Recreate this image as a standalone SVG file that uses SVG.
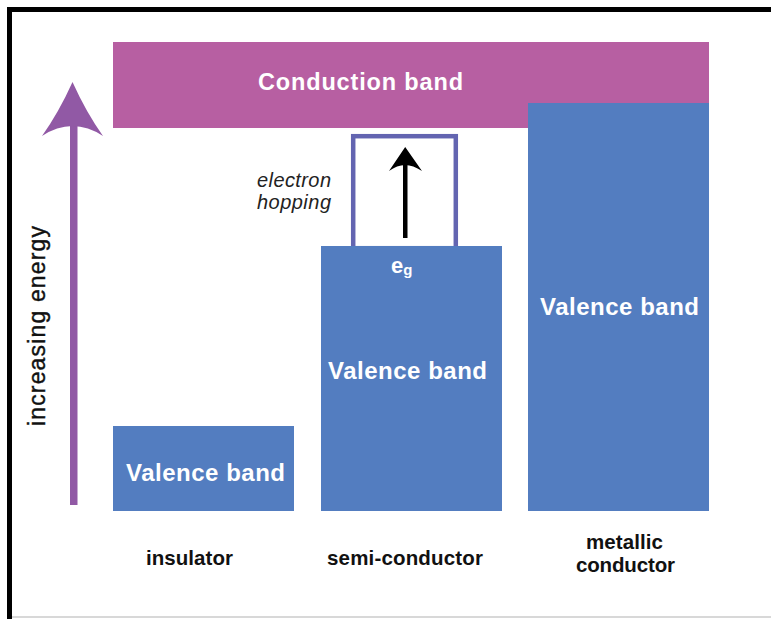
<svg xmlns="http://www.w3.org/2000/svg" width="771" height="619" viewBox="0 0 771 619">
<style>
.band{font-family:"Liberation Sans",Arial,sans-serif;font-weight:bold;fill:#fff;}
.lbl{font-family:"Liberation Sans",Arial,sans-serif;font-weight:bold;fill:#111;font-size:20.5px;}
.it{font-family:"Liberation Sans",Arial,sans-serif;font-style:italic;fill:#222;font-size:20px;}
.blue{fill:#537DC0;}
</style>
<rect x="0" y="0" width="771" height="619" fill="#fff"/>
<g id="frame">
<rect x="7" y="7" width="764" height="5" fill="#000"/>
<rect x="7" y="7" width="5" height="612" fill="#000"/>
<rect x="12" y="616" width="759" height="2" fill="#d8d8d8"/>
</g>
<g id="conduction">
<rect x="113" y="42" width="596" height="86" fill="#B75FA2"/>
<text class="band" x="258" y="90" font-size="23.5" textLength="205" lengthAdjust="spacing">Conduction band</text>
</g>
<g id="gap">
<rect x="353.2" y="136.2" width="102.6" height="112" fill="#fff" stroke="#6365B1" stroke-width="4.5"/>
</g>
<g id="insulator">
<rect class="blue" x="113" y="426" width="181" height="85"/>
<text class="band" x="126" y="481" font-size="24" textLength="159" lengthAdjust="spacing">Valence band</text>
</g>
<g id="semiconductor">
<rect class="blue" x="321" y="246" width="181" height="265"/>
<text class="band" x="328" y="379" font-size="24" textLength="159" lengthAdjust="spacing">Valence band</text>
<text class="band" x="391" y="273" font-size="22">e<tspan font-size="15" dy="2">g</tspan></text>
</g>
<g id="metallic">
<rect class="blue" x="528" y="103" width="181" height="408"/>
<text class="band" x="540" y="315" font-size="24" textLength="159" lengthAdjust="spacing">Valence band</text>
</g>
<g id="connectors">
<rect x="70" y="120" width="7.5" height="385" fill="#9159A5"/>
<path d="M72.5,82 Q86,112 103,136 Q88,126 72.5,126 Q57,126 42,136 Q59,112 72.5,82 Z" fill="#9159A5"/>
<rect x="403" y="165" width="4.5" height="73" fill="#000"/>
<path d="M405.2,147 L422,171 Q413,165 405.2,165 Q397,165 389,171 Z" fill="#000"/>
</g>
<g id="labels">
<text class="it" x="257" y="187" textLength="74" lengthAdjust="spacing">electron</text>
<text class="it" x="257" y="209" textLength="74" lengthAdjust="spacing">hopping</text>
<text transform="translate(45,426) rotate(-90)" font-family="Liberation Sans, Arial, sans-serif" font-size="23" font-weight="500" fill="#111" stroke="#111" stroke-width="0.4" textLength="200" lengthAdjust="spacing">increasing energy</text>
<text class="lbl" x="146" y="565" textLength="87" lengthAdjust="spacing">insulator</text>
<text class="lbl" x="327" y="565" textLength="156" lengthAdjust="spacing">semi-conductor</text>
<text class="lbl" x="586" y="549" textLength="77" lengthAdjust="spacing">metallic</text>
<text class="lbl" x="576" y="572" textLength="99" lengthAdjust="spacing">conductor</text>
</g>
</svg>
